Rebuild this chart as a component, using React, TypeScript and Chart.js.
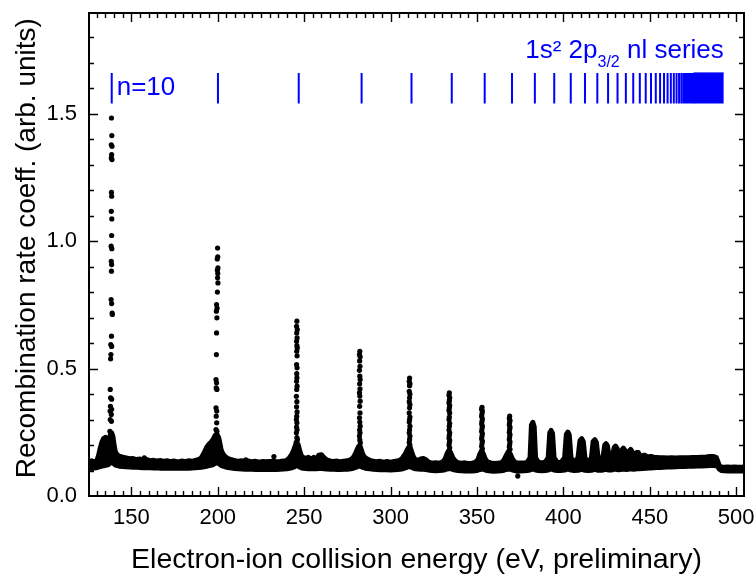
import React, { useEffect, useRef } from 'react';
import { Chart, registerables } from 'chart.js';

Chart.register(...registerables);

// ---- Axis settings (values) ----
const xMin = 125.5;
const xMax = 504.5;
const yMin = 0;
const yMax = 1.895;
const xMajorStep = 50;
const yMajorStep = 0.5;

const xTitle = 'Electron-ion collision energy (eV, preliminary)';
const yTitle = 'Recombination rate coeff. (arb. units)';

// ---- 1s2 2p3/2 nl resonance series markers (eV), n = 10 ... 45 ----
const seriesEnergies = [
  138.65, 200.11, 246.86, 283.24, 312.11, 335.4, 354.46, 370.26, 383.49, 394.7,
  404.26, 412.49, 419.63, 425.85, 431.32, 436.14, 440.41, 444.22, 447.63, 450.69,
  453.45, 455.95, 458.22, 460.28, 462.16, 463.89, 465.47, 466.93, 468.27, 469.52,
  470.67, 471.73, 472.72, 473.65, 474.51, 475.31,
];
// dense part of the series up to the series limit
const seriesDenseRange = [475.3, 492.8];
const seriesMarkRange = [1.54, 1.66];
const seriesLabelN = 'n=10';

// ---- Measured spectrum: background band [energy, lower, upper] ----
const baselineBand: [number, number, number][] = [
  [125.5, .110, .135], [127, .108, .138], [128.5, .110, .133], [130, .111, .138],
  [131, .113, .158], [132, .115, .188], [133, .117, .212], [134, .119, .226],
  [135, .120, .230], [135.8, .121, .214], [136.5, .122, .176], [137.2, .126, .200],
  [137.8, .130, .240], [138.6, .132, .248], [139.4, .130, .232], [140, .126, .200],
  [140.8, .122, .172], [141.8, .119, .162], [143, .117, .156], [145, .116, .152],
  [147, .115, .149], [149, .114, .146], [151, .113, .147], [153, .113, .143],
  [155, .112, .145], [157, .111, .140], [159, .112, .143], [161, .111, .138],
  [163, .110, .140], [165, .111, .137], [167, .109, .139], [169, .110, .136],
  [171, .109, .138], [173, .110, .135], [175, .109, .137], [177, .110, .134],
  [179, .109, .137], [181, .110, .135], [183, .109, .138], [185, .110, .136],
  [187, .111, .140], [189, .112, .143], [190.5, .113, .150], [192, .115, .168],
  [193.5, .117, .190], [195, .119, .204], [196.5, .121, .214], [197.5, .124, .224],
  [198.5, .128, .238], [199.5, .130, .242], [200.5, .128, .230], [201.3, .124, .204],
  [202, .120, .180], [203, .117, .165], [204.5, .114, .153], [206, .112, .147],
  [208, .110, .142], [210, .108, .139], [212, .107, .136], [214, .106, .138],
  [216, .105, .135], [218, .106, .137], [220, .105, .134], [222, .104, .136],
  [224, .105, .133], [226, .104, .135], [228, .105, .134], [230, .104, .135],
  [232, .105, .136], [234, .104, .134], [236, .105, .135], [238, .106, .137],
  [240, .107, .140], [241.5, .109, .150], [243, .111, .165], [244.2, .114, .185],
  [245, .117, .200], [245.8, .119, .210], [246.6, .117, .200], [247.4, .114, .178],
  [248.3, .111, .160], [249.5, .109, .150], [251, .108, .148], [252.5, .107, .152],
  [254, .107, .143], [255.5, .108, .152], [257, .107, .145], [258.5, .108, .160],
  [260, .108, .162], [261.5, .107, .150], [263, .106, .142], [265, .105, .138],
  [267, .105, .135], [269, .104, .137], [271, .104, .134], [273, .105, .136],
  [275, .105, .138], [277, .107, .143], [278.5, .109, .152], [279.8, .112, .168],
  [280.8, .115, .185], [281.6, .117, .195], [282.4, .117, .195], [283.2, .115, .178],
  [284, .112, .162], [285, .110, .152], [286.5, .108, .145], [288, .107, .140],
  [290, .105, .137], [292, .104, .134], [294, .103, .136], [296, .103, .133],
  [298, .103, .135], [300, .102, .133], [302, .103, .135], [304, .104, .137],
  [305.5, .105, .141], [307, .107, .150], [308.5, .110, .165], [309.7, .113, .182],
  [310.6, .115, .192], [311.5, .115, .188], [312.4, .112, .168], [313.3, .109, .152],
  [314.5, .107, .142], [316, .106, .140], [317.5, .105, .145], [319, .105, .147],
  [320.5, .104, .142], [322, .102, .133], [324, .100, .129], [326, .099, .130],
  [328, .100, .129], [330, .101, .133], [331.5, .103, .145], [332.8, .106, .168],
  [333.8, .108, .180], [334.8, .107, .170], [336, .104, .150], [337.5, .102, .137],
  [339, .100, .131], [341, .099, .129], [343, .098, .130], [345, .099, .128],
  [347, .098, .129], [349, .099, .132], [350.5, .101, .142], [351.7, .104, .165],
  [352.7, .106, .178], [353.7, .105, .165], [354.8, .102, .145], [356, .100, .134],
  [358, .098, .130], [360, .097, .128], [362, .098, .129], [364, .099, .130],
  [365.7, .101, .142], [367, .104, .160], [368.2, .106, .175], [369.3, .105, .165],
  [370.5, .102, .145], [372, .100, .132], [373.5, .097, .129], [375, .098, .129],
  [377, .099, .129], [379, .100, .132], [380.7, .102, .150], [381.5, .104, .278],
  [382.3, .106, .289], [383.1, .104, .272], [383.9, .102, .150], [385.5, .100, .133],
  [387.5, .099, .130], [389.5, .100, .133], [391.2, .102, .150], [392.1, .104, .248],
  [392.9, .106, .257], [393.7, .104, .246], [394.6, .102, .150], [396.5, .100, .132],
  [398.5, .100, .131], [400.7, .102, .150], [401.7, .104, .242], [402.6, .106, .251],
  [403.4, .104, .240], [404.4, .102, .150], [406.3, .100, .132], [408.4, .101, .148],
  [409.6, .103, .218], [410.6, .105, .225], [411.5, .103, .214], [412.5, .101, .148],
  [414.5, .100, .133], [416.2, .101, .150], [417.2, .103, .214], [418.2, .105, .221],
  [419.1, .103, .210], [420.1, .101, .148], [421.8, .101, .138], [423.1, .102, .160],
  [423.9, .104, .199], [424.7, .105, .205], [425.5, .103, .197], [426.4, .102, .155],
  [427.5, .102, .142], [428.6, .103, .165], [429.4, .105, .190], [430.2, .105, .196],
  [431.0, .104, .187], [431.9, .103, .150], [433, .104, .165], [433.9, .105, .182],
  [434.7, .106, .188], [435.5, .105, .180], [436.4, .104, .152], [437.3, .105, .162],
  [438.1, .106, .177], [438.9, .107, .183], [439.7, .106, .174], [440.6, .105, .155],
  [441.6, .106, .165], [442.4, .107, .171], [443.3, .107, .171], [444.2, .107, .158],
  [445.2, .108, .155], [446.2, .108, .160], [447.2, .109, .160], [448.1, .109, .155],
  [449.2, .110, .154], [450.7, .110, .155], [452.2, .111, .152], [454, .112, .151],
  [456, .112, .150], [458, .113, .150], [460, .114, .149], [462.5, .114, .150],
  [465, .115, .149], [467.5, .116, .150], [470, .116, .150], [472.5, .117, .150],
  [475, .117, .151], [477.5, .118, .151], [480, .118, .152], [482.5, .119, .153],
  [485, .120, .155], [487, .120, .155], [488.5, .119, .151], [489.5, .113, .133],
  [490.3, .105, .117], [491.5, .100, .114], [493, .099, .113], [495, .098, .114],
  [497, .099, .113], [499, .098, .114], [501, .099, .113], [503, .098, .113],
  [504.5, .099, .114],
];

// ---- Resonance peak points [energy, rate] ----
const peakN10: [number, number][] = [
  [138.5, 1.483], [138.7, 1.414], [138.4, 1.378], [138.8, 1.372], [138.6, 1.339],
  [138.4, 1.326], [138.8, 1.32], [138.5, 1.191], [138.6, 1.176], [138.4, 1.117],
  [138.7, 1.087], [138.6, 1.022], [138.3, 0.98], [138.7, 0.97], [138.4, 0.921],
  [138.6, 0.908], [138.5, 0.882], [138.3, 0.771], [138.6, 0.755], [138.9, 0.718],
  [139.0, 0.712], [138.5, 0.627], [138.1, 0.594], [138.6, 0.587], [138.2, 0.555],
  [138.0, 0.538], [137.8, 0.418], [138.0, 0.385], [138.6, 0.38], [137.9, 0.352],
  [138.6, 0.34], [137.7, 0.333], [138.4, 0.32], [137.8, 0.30], [138.5, 0.293],
  [137.6, 0.254], [138.6, 0.241], [139.0, 0.235], [139.6, 0.205],
];
const peakN11: [number, number][] = [
  [199.9, 0.973], [200.0, 0.938], [199.7, 0.93], [200.1, 0.895], [199.8, 0.886],
  [200.0, 0.873], [199.9, 0.856], [200.1, 0.836], [199.8, 0.80], [199.3, 0.751],
  [199.6, 0.737], [199.2, 0.725], [199.5, 0.699], [199.3, 0.64], [199.2, 0.555],
  [199.0, 0.457], [199.3, 0.444], [199.1, 0.424], [199.5, 0.418], [199.0, 0.346],
  [199.4, 0.333], [199.1, 0.313], [199.4, 0.287], [199.0, 0.261], [199.5, 0.254],
  [199.2, 0.235], [199.6, 0.222], [200.2, 0.196],
];
const peakN12: [number, number][] = [
  [245.8, 0.686], [245.6, 0.666], [246.0, 0.653], [245.7, 0.64], [245.9, 0.62],
  [245.6, 0.607], [245.8, 0.59], [246.0, 0.581], [245.7, 0.568], [245.9, 0.55],
  [245.6, 0.516], [245.9, 0.503], [245.7, 0.48], [245.8, 0.464], [245.6, 0.45],
  [245.9, 0.431], [245.7, 0.418], [245.5, 0.391], [245.8, 0.37], [245.6, 0.35],
  [245.9, 0.33], [245.7, 0.313], [245.5, 0.30], [245.8, 0.287], [245.6, 0.27],
  [245.9, 0.26], [245.5, 0.248], [245.8, 0.229], [246.1, 0.222], [245.4, 0.21],
];
const peakN13: [number, number][] = [
  [282.2, 0.568], [282.0, 0.555], [282.4, 0.546], [282.1, 0.53], [282.3, 0.509],
  [282.0, 0.493], [282.2, 0.47], [282.4, 0.457], [282.1, 0.44], [282.3, 0.42],
  [282.0, 0.405], [282.2, 0.392], [282.4, 0.372], [282.1, 0.352], [282.3, 0.326],
  [282.0, 0.307], [282.2, 0.29], [282.4, 0.274], [282.1, 0.26], [282.3, 0.248],
  [282.0, 0.235], [282.2, 0.22], [282.5, 0.209],
];
const peakN14: [number, number][] = [
  [311.0, 0.463], [310.8, 0.45], [311.2, 0.44], [311.0, 0.433], [310.8, 0.411],
  [311.2, 0.40], [311.0, 0.385], [310.8, 0.37], [311.2, 0.359], [311.0, 0.346],
  [310.8, 0.326], [311.2, 0.31], [311.0, 0.30], [310.8, 0.29], [311.2, 0.274],
  [311.0, 0.26], [310.8, 0.248], [311.2, 0.235], [311.0, 0.222], [310.8, 0.21],
  [311.2, 0.20],
];
const peakN15: [number, number][] = [
  [334.0, 0.405], [333.8, 0.395], [334.2, 0.385], [334.0, 0.375], [333.8, 0.365],
  [334.2, 0.355], [334.0, 0.346], [333.8, 0.336], [334.2, 0.326], [334.0, 0.31],
  [333.8, 0.30], [334.2, 0.285], [334.0, 0.274], [333.8, 0.26], [334.2, 0.248],
  [334.0, 0.238], [333.8, 0.228], [334.2, 0.218], [334.0, 0.209], [333.8, 0.20],
  [334.2, 0.189],
];
const peakN16: [number, number][] = [
  [352.9, 0.348], [352.7, 0.34], [353.1, 0.333], [352.9, 0.323], [352.7, 0.313],
  [353.1, 0.303], [352.9, 0.293], [352.7, 0.283], [353.1, 0.274], [352.9, 0.264],
  [352.7, 0.254], [353.1, 0.245], [352.9, 0.235], [352.7, 0.225], [353.1, 0.215],
  [352.9, 0.205], [352.7, 0.195], [353.1, 0.185],
];
const peakN17: [number, number][] = [
  [368.9, 0.313], [368.7, 0.305], [369.1, 0.297], [368.9, 0.289], [368.7, 0.28],
  [369.1, 0.27], [368.9, 0.261], [368.7, 0.25], [369.1, 0.241], [368.9, 0.232],
  [368.7, 0.222], [369.1, 0.212], [368.9, 0.202], [368.7, 0.193], [369.1, 0.183],
];
const strayPoints: [number, number][] = [
  [232.5, 0.155], [157.5, 0.150], [373.6, 0.078], [216.2, 0.142],
];

// ---- Annotation text anchors (data units) ----
const seriesTitleMain = '1s\u00B2 2p';
const seriesTitleSub = '3/2';
const seriesTitleTail = ' nl series';
const seriesTitleY = 1.718;
const seriesSubY = 1.684;
const nLabelY = 1.572;
const yTitleCenterFraction = 0.487; // vertical centre of the y title within the plot frame

const FONT = '"Liberation Sans", Arial, Helvetica, sans-serif';

const framePlugin = {
  id: 'frameTicks',
  afterDatasetsDraw(chart: any) {
    const { ctx, chartArea: a, scales } = chart;
    const x = scales.x;
    const y = scales.y;
    ctx.save();
    ctx.strokeStyle = '#000';
    ctx.lineWidth = 1.4;
    for (let v = Math.ceil(xMin / 5) * 5; v <= xMax; v += 5) {
      const px = Math.round(x.getPixelForValue(v)) + 0.5;
      const len = v % xMajorStep === 0 ? 9 : 5;
      ctx.beginPath();
      ctx.moveTo(px, a.bottom);
      ctx.lineTo(px, a.bottom - len);
      ctx.moveTo(px, a.top);
      ctx.lineTo(px, a.top + len);
      ctx.stroke();
    }
    for (let i = 1; i / 10 <= yMax; i++) {
      const py = Math.round(y.getPixelForValue(i / 10)) + 0.5;
      const len = i % 5 === 0 ? 9 : 5;
      ctx.beginPath();
      ctx.moveTo(a.left, py);
      ctx.lineTo(a.left + len, py);
      ctx.moveTo(a.right, py);
      ctx.lineTo(a.right - len, py);
      ctx.stroke();
    }
    ctx.lineWidth = 2;
    ctx.strokeRect(a.left, a.top, a.right - a.left, a.bottom - a.top);

    // y-axis title
    ctx.save();
    ctx.fillStyle = '#000';
    ctx.font = `28px ${FONT}`;
    ctx.textAlign = 'center';
    ctx.textBaseline = 'alphabetic';
    ctx.translate(35, a.top + (a.bottom - a.top) * yTitleCenterFraction);
    ctx.rotate(-Math.PI / 2);
    ctx.fillText(yTitle, 0, 0);
    ctx.restore();

    // blue annotations
    ctx.fillStyle = '#0000ff';
    ctx.textBaseline = 'alphabetic';
    ctx.textAlign = 'left';
    const big = `26px ${FONT}`;
    const small = `16px ${FONT}`;
    ctx.font = big;
    ctx.fillText(seriesLabelN, x.getPixelForValue(seriesEnergies[0]) + 5, y.getPixelForValue(nLabelY));

    const right = x.getPixelForValue(seriesDenseRange[1]);
    ctx.font = big;
    const wTail = ctx.measureText(seriesTitleTail).width;
    const wHead = ctx.measureText(seriesTitleMain).width;
    ctx.font = small;
    const wSub = ctx.measureText(seriesTitleSub).width;
    let cx = right - wTail - wSub - wHead;
    ctx.font = big;
    ctx.fillText(seriesTitleMain, cx, y.getPixelForValue(seriesTitleY));
    cx += wHead;
    ctx.font = small;
    ctx.fillText(seriesTitleSub, cx, y.getPixelForValue(seriesSubY));
    cx += wSub;
    ctx.font = big;
    ctx.fillText(seriesTitleTail, cx, y.getPixelForValue(seriesTitleY));
    ctx.restore();
  },
};

export default function App() {
  const ref = useRef<HTMLCanvasElement | null>(null);

  useEffect(() => {
    if (!ref.current) return;
    Chart.defaults.font.family = FONT;

    const lower = baselineBand.map(([e, lo]) => ({ x: e, y: lo }));
    const upper = baselineBand.map(([e, , hi]) => ({ x: e, y: hi }));
    const dots = [
      ...peakN10, ...peakN11, ...peakN12, ...peakN13, ...peakN14,
      ...peakN15, ...peakN16, ...peakN17, ...strayPoints,
    ].map(([e, v]) => ({ x: e, y: v }));

    const markers: { x: number; y: number | null }[] = [];
    seriesEnergies.forEach((e) => {
      markers.push({ x: e, y: seriesMarkRange[0] }, { x: e, y: seriesMarkRange[1] }, { x: e, y: null });
    });
    const dense = [
      { x: seriesDenseRange[0], y: seriesMarkRange[1] },
      { x: seriesDenseRange[1], y: seriesMarkRange[1] },
    ];

    const chart = new Chart(ref.current, {
      type: 'line',
      data: {
        datasets: [
          {
            data: lower,
            borderColor: '#000',
            borderWidth: 5,
            borderJoinStyle: 'round',
            borderCapStyle: 'round',
            pointRadius: 0,
            fill: false,
            clip: 0,
          },
          {
            data: upper,
            borderColor: '#000',
            backgroundColor: '#000',
            borderWidth: 5,
            borderJoinStyle: 'round',
            borderCapStyle: 'round',
            pointRadius: 0,
            fill: '-1',
            clip: 0,
          },
          {
            data: dots,
            showLine: false,
            pointRadius: 2.6,
            pointBackgroundColor: '#000',
            pointBorderWidth: 0,
            pointHoverRadius: 0,
            clip: 0,
          },
          {
            data: markers,
            borderColor: '#0000ff',
            borderWidth: 2,
            pointRadius: 0,
            spanGaps: false,
            fill: false,
          },
          {
            data: dense,
            borderColor: '#0000ff',
            backgroundColor: '#0000ff',
            borderWidth: 1,
            pointRadius: 0,
            fill: { value: seriesMarkRange[0] },
          },
        ] as any,
      },
      options: {
        animation: false,
        responsive: true,
        maintainAspectRatio: false,
        events: [],
        layout: { padding: { left: 0, right: 11, top: 13, bottom: 0 } },
        plugins: {
          legend: { display: false },
          tooltip: { enabled: false },
        },
        scales: {
          x: {
            type: 'linear',
            min: xMin,
            max: xMax,
            grid: { display: false, drawTicks: false },
            border: { display: false },
            ticks: {
              stepSize: xMajorStep,
              includeBounds: false,
              autoSkip: false,
              maxRotation: 0,
              padding: 9,
              color: '#000',
              font: { size: 22, family: FONT },
              callback: (v: any) => String(v),
            },
            title: {
              display: true,
              text: xTitle,
              color: '#000',
              font: { size: 28.5, family: FONT },
              padding: { top: 0, bottom: 0 },
            },
            afterFit: (s: any) => {
              s.height = 81;
              s.paddingLeft = 0;
              s.paddingRight = 0;
            },
          },
          y: {
            type: 'linear',
            min: yMin,
            max: yMax,
            grid: { display: false, drawTicks: false },
            border: { display: false },
            ticks: {
              stepSize: yMajorStep,
              includeBounds: false,
              padding: 12,
              color: '#000',
              font: { size: 22, family: FONT },
              callback: (v: any) => Number(v).toFixed(1),
            },
            title: { display: false },
            afterFit: (s: any) => {
              s.width = 89;
              s.paddingTop = 0;
              s.paddingBottom = 0;
            },
          },
        },
      } as any,
      plugins: [framePlugin],
    });
    return () => chart.destroy();
  }, []);

  return (
    <div style={{ position: 'fixed', left: 0, top: 0, width: 755, height: 577, background: '#fff' }}>
      <canvas ref={ref} />
    </div>
  );
}
